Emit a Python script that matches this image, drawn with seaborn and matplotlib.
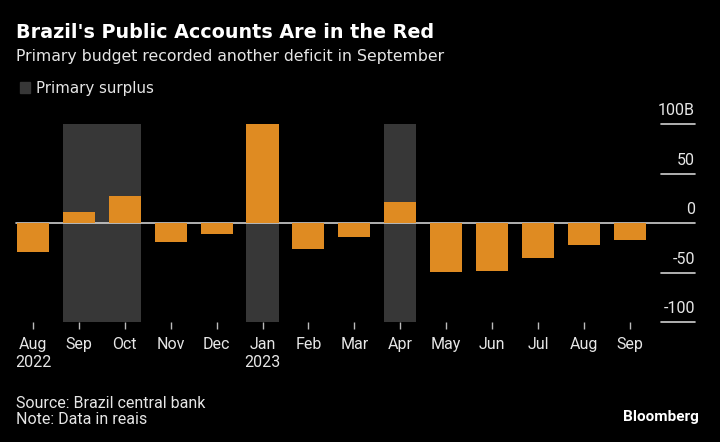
import numpy as np
import pandas as pd
import seaborn as sns
import matplotlib.pyplot as plt
from matplotlib.patches import Patch
from matplotlib import font_manager

# monthly primary budget result, billions of reais
months = ['Aug', 'Sep', 'Oct', 'Nov', 'Dec', 'Jan', 'Feb', 'Mar', 'Apr', 'May', 'Jun', 'Jul', 'Aug', 'Sep']
years = ['2022', '', '', '', '', '2023', '', '', '', '', '', '', '', '']
values = [-29.5, 11, 27, -19.5, -11, 99.5, -26, -14, 21, -49.5, -48, -35, -22, -17.5]
y_ticks = [100, 50, 0, -50, -100]
y_labels = ['100B', '50', '0', '-50', '-100']

orange = '#df8b22'
shade = '#373737'
fg = '#e6e6e6'

sns.set_theme(style='white')
plt.rcParams['font.family'] = ['DejaVu Sans']

# narrow font for the small labels, if there is one
installed = {f.name for f in font_manager.fontManager.ttflist}
narrow = 'Liberation Sans Narrow' if 'Liberation Sans Narrow' in installed else 'Roboto'

df = pd.DataFrame({'idx': range(len(values)), 'value': values})

fig = plt.figure(figsize=(7.2, 4.42), dpi=100, facecolor='black')
ax = fig.add_axes([10 / 720, 120 / 442, 690 / 720, 198 / 442])
ax.set_facecolor('black')

bw = 0.7
# shaded runs of months with a primary surplus
start = None
for i, v in enumerate(values + [0]):
    if v > 0 and start is None:
        start = i
    if v <= 0 and start is not None:
        ax.axvspan(start - bw / 2, i - 1 + bw / 2, color=shade, lw=0, zorder=0)
        start = None

sns.barplot(data=df, x='idx', y='value', color=orange, width=bw, saturation=1,
            ax=ax, zorder=3, edgecolor='none')

# zero line
ax.axhline(0, xmin=(16 - 10) / 690, xmax=(695 - 10) / 690, color='#cfcfcf', lw=1.2, zorder=2)

ax.set_xlim((10 - 33) / 45.9, (700 - 33) / 45.9)
ax.set_ylim(-100, 100)
for s in ax.spines.values():
    s.set_visible(False)
ax.set_yticks([])
ax.set_xlabel('')
ax.set_ylabel('')

# right-hand value scale, Bloomberg style
x0, x1 = (661 - 10) / 690, (695 - 10) / 690
for t, lab in zip(y_ticks, y_labels):
    if t != 0:
        ax.plot([x0, x1], [t, t], transform=ax.get_yaxis_transform(), color='#cfcfcf',
                lw=1.2, clip_on=False, zorder=2)
    ax.text(x1, t + 6, lab, transform=ax.get_yaxis_transform(), ha='right', va='bottom',
            color=fg, fontsize=11.5, family=narrow)

ax.set_xticks(range(len(months)))
ax.set_xticklabels([m + ('\n' + y if y else '') for m, y in zip(months, years)],
                   color=fg, fontsize=11.5, family=narrow, va='top', linespacing=1.25)
ax.tick_params(axis='x', bottom=True, length=5, width=1, color='#bbbbbb', pad=5.5)

fig.text(16 / 720, 1 - 33 / 442, "Brazil's Public Accounts Are in the Red", color='white',
         fontsize=13.8, fontweight='bold', va='center')
fig.text(16 / 720, 1 - 57 / 442, 'Primary budget recorded another deficit in September',
         color=fg, fontsize=11.3, va='center')
fig.legend(handles=[Patch(color=shade, label='Primary surplus')], loc='center left',
           bbox_to_anchor=(6 / 720, 1 - 88 / 442), frameon=False, handlelength=0.7,
           handleheight=0.7, handletextpad=0.4, labelcolor=fg, fontsize=10.8)

fig.text(16 / 720, 1 - 403 / 442, 'Source: Brazil central bank', color=fg, fontsize=11.5,
         va='center', family=narrow)
fig.text(16 / 720, 1 - 420 / 442, 'Note: Data in reais', color=fg, fontsize=11.5,
         va='center', family=narrow)
fig.text(699 / 720, 1 - 417 / 442, 'Bloomberg', color='white', fontsize=11,
         fontweight='bold', ha='right', va='center', family=narrow)

fig.savefig('out.png', dpi=100, facecolor='black')
